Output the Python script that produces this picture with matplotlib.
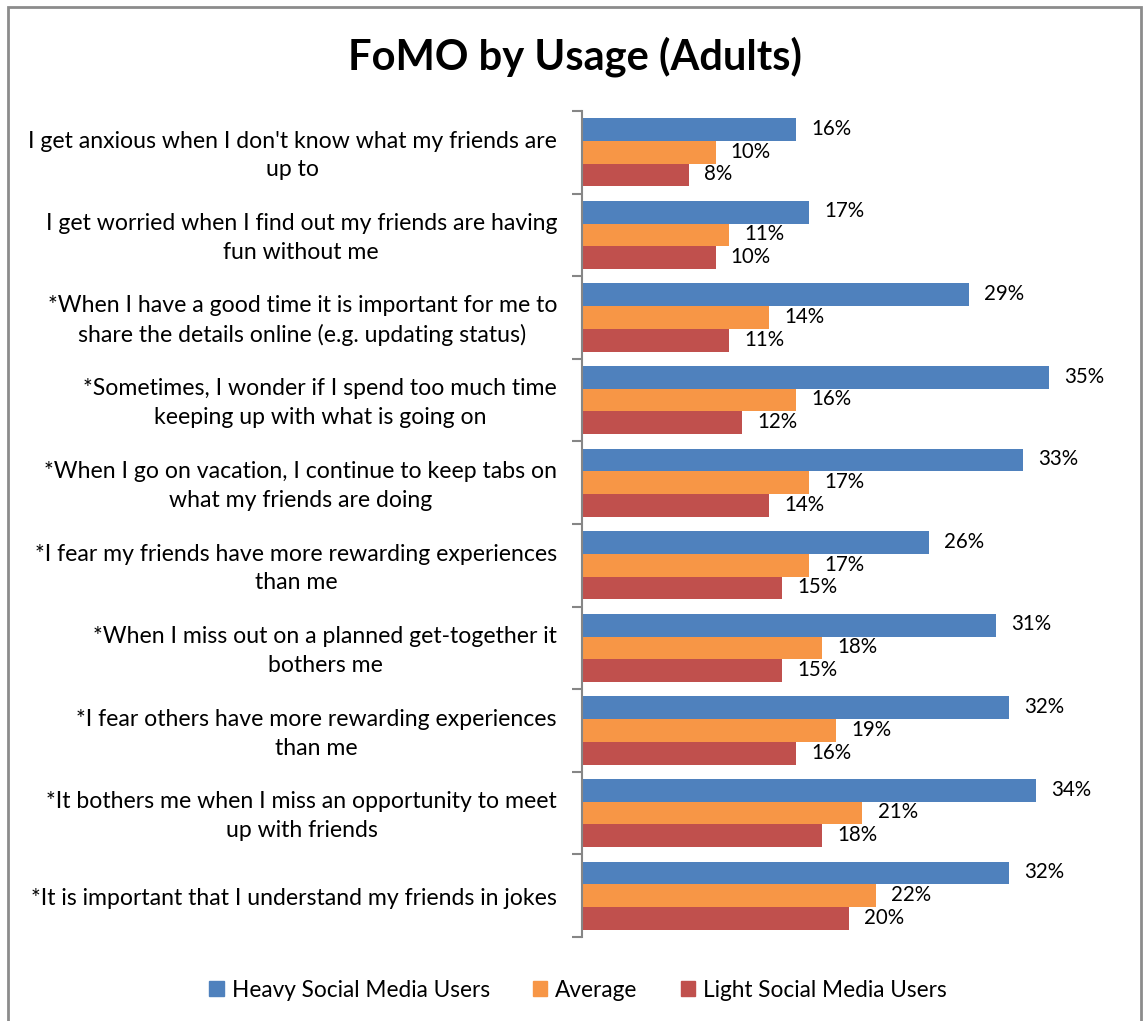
import matplotlib
matplotlib.use("Agg")
import matplotlib.pyplot as plt
import matplotlib.patches as mpatches
import numpy as np

categories = [
    "I get anxious when I don't know what my friends are\nup to",
    "I get worried when I find out my friends are having\nfun without me",
    "*When I have a good time it is important for me to\nshare the details online (e.g. updating status)",
    "*Sometimes, I wonder if I spend too much time\nkeeping up with what is going on",
    "*When I go on vacation, I continue to keep tabs on\nwhat my friends are doing",
    "*I fear my friends have more rewarding experiences\nthan me",
    "*When I miss out on a planned get-together it\nbothers me",
    "*I fear others have more rewarding experiences\nthan me",
    "*It bothers me when I miss an opportunity to meet\nup with friends",
    "*It is important that I understand my friends in jokes",
]
series_names = ["Heavy Social Media Users", "Average", "Light Social Media Users"]
heavy = [16, 17, 29, 35, 33, 26, 31, 32, 34, 32]
average = [10, 11, 14, 16, 17, 17, 18, 19, 21, 22]
light = [8, 10, 11, 12, 14, 15, 15, 16, 18, 20]
colors = ["#4F81BD", "#F79646", "#C0504D"]

plt.rcParams['font.family'] = ['Lato', 'DejaVu Sans']

W, H = 1144, 1021
fig = plt.figure(figsize=(W / 100, H / 100), dpi=100)

ax_left, ax_right = 582, 1116
ax_top, ax_bot = 111, 937
ax = fig.add_axes([ax_left / W, 1 - ax_bot / H, (ax_right - ax_left) / W, (ax_bot - ax_top) / H])

n = len(categories)
bh = 0.275
y = np.arange(n)
for i, (vals, c, name) in enumerate(zip([heavy, average, light], colors, series_names)):
    pos = y - bh + i * bh
    ax.barh(pos, vals, height=bh, color=c, label=name, edgecolor='none')
    for p, v in zip(pos, vals):
        ax.annotate(f"{v}%", xy=(v, p), xytext=(11, 0.5), textcoords='offset points',
                    ha='left', va='center', fontsize=14.8, color='black')

ax.set_xlim(0, 40)
ax.set_ylim(n - 0.5, -0.5)
ax.set_xticks([])
ax.set_yticks(np.arange(n + 1) - 0.5)
ax.set_yticklabels([])
ax.tick_params(axis='y', direction='out', length=7, width=1.5, color='#868686')
for s in ['top', 'right', 'bottom']:
    ax.spines[s].set_visible(False)
ax.spines['left'].set_color('#868686')
ax.spines['left'].set_linewidth(1.5)

for i, cat in enumerate(categories):
    ax.annotate(cat, xy=(0, i), xytext=(-25 * 0.72, -2.3), textcoords='offset points',
                ha='right', va='center', multialignment='center', fontsize=16.6,
                linespacing=1.45, color='black', annotation_clip=False)

fig.text(575 / W, 1 - 57 / H, "FoMO by Usage (Adults)", ha='center', va='center',
         fontsize=30, fontweight='bold', color='black')

handles = [mpatches.Patch(color=c) for c in colors]
fig.legend(handles, series_names, loc='center', bbox_to_anchor=(578 / W, 1 - 990 / H),
           ncol=3, frameon=False, fontsize=16.3, handlelength=0.65, handleheight=0.65,
           handletextpad=0.35, columnspacing=1.9)

border = mpatches.Rectangle((8 / W, -0.05), (1141 - 8) / W, 1.05 - 7 / H, transform=fig.transFigure,
                            fill=False, edgecolor='#8c8c8c', linewidth=2, clip_on=False)
fig.patches.append(border)

fig.savefig("out.png", dpi=100, facecolor='white')
